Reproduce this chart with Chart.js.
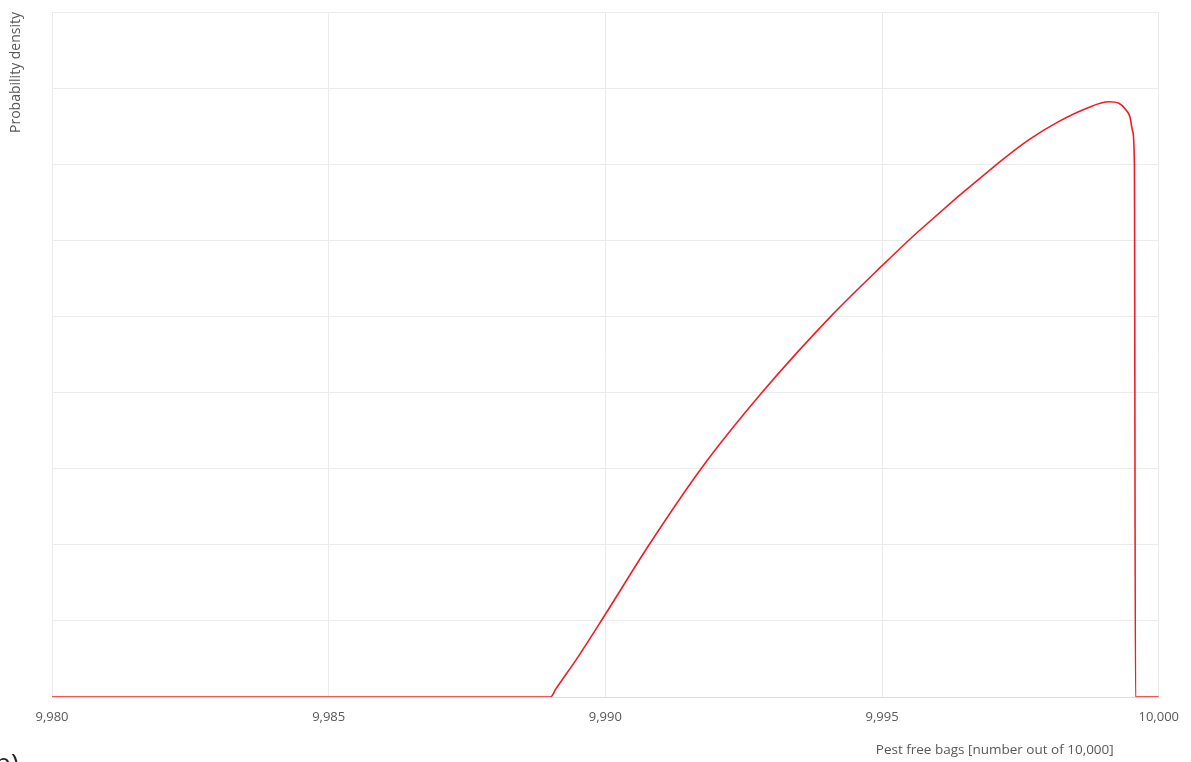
<!DOCTYPE html>
<html>
<head>
<meta charset="utf-8">
<script src="https://cdn.jsdelivr.net/npm/chart.js@4"></script>
<style>
  html, body { margin: 0; padding: 0; background: #fff; }
  #wrap { width: 1191px; height: 762px; position: relative; }
</style>
</head>
<body>
<div id="wrap"><canvas id="densityChart"></canvas></div>
<script>
// Pest free bags (x) and probability density (y, arbitrary units)
const bagsX = [9980, 9989.01, 9989.1, 9989.51, 9990.02, 9990.79, 9991.73, 9992.83, 9994.1, 9995.02,
  9995.63, 9997.11, 9997.65, 9998.19, 9998.68, 9999.1, 9999.28, 9999.4, 9999.48, 9999.53,
  9999.56, 9999.58, 10000];
const densityY = [0, 0, 0.1, 0.53, 1.11, 2.0, 3.0, 4.0, 5.02, 5.68,
  6.1, 7.02, 7.32, 7.56, 7.73, 7.82, 7.8, 7.72, 7.62, 7.43,
  7.0, 0, 0];
const xTicks = [9980, 9985, 9990, 9995, 10000];
const xTitle = 'Pest free bags [number out of 10,000]';
const yTitle = 'Probability density';
const panelLabel = 'b)';

const FONT = "'Open Sans', 'Liberation Sans', sans-serif";
const GRID = '#ebebeb';
const TEXT = '#595959';

// x axis title and the cut off panel letter
const extraText = {
  id: 'extraText',
  afterDraw(chart) {
    const ctx = chart.ctx;
    const area = chart.chartArea;
    ctx.save();
    ctx.fillStyle = TEXT;
    ctx.font = '13.5px ' + FONT;
    ctx.textAlign = 'center';
    ctx.textBaseline = 'middle';
    ctx.fillText(xTitle, area.right - 164, 750);
    ctx.fillStyle = '#222';
    ctx.font = '26px ' + FONT;
    ctx.textAlign = 'left';
    ctx.textBaseline = 'alphabetic';
    ctx.fillText(panelLabel, -5, 772);
    ctx.restore();
  }
};

const points = bagsX.map((x, i) => ({ x: x, y: densityY[i] }));

new Chart(document.getElementById('densityChart'), {
  type: 'line',
  data: {
    datasets: [{
      data: points,
      borderColor: '#f21c24',
      borderWidth: 1.6,
      pointRadius: 0,
      cubicInterpolationMode: 'monotone',
      fill: false
    }]
  },
  options: {
    responsive: true,
    maintainAspectRatio: false,
    animation: false,
    layout: { padding: { top: 12, right: 31, left: 0, bottom: 0 } },
    plugins: {
      legend: { display: false },
      tooltip: { enabled: false }
    },
    scales: {
      x: {
        type: 'linear',
        min: 9980,
        max: 10000,
        afterBuildTicks(axis) {
          axis.ticks = xTicks.map(v => ({ value: v }));
        },
        afterFit(axis) { axis.height = 65; },
        grid: { color: GRID, drawTicks: false },
        border: { color: '#dcdcdc' },
        ticks: {
          color: TEXT,
          font: { family: FONT, size: 13 },
          padding: 12,
          maxRotation: 0,
          callback: v => v.toLocaleString('en-US')
        }
      },
      y: {
        min: 0,
        max: 9,
        afterFit(axis) { axis.width = 52; },
        grid: { color: GRID, drawTicks: false },
        border: { color: GRID },
        ticks: { stepSize: 1, display: false },
        title: {
          display: true,
          text: yTitle,
          align: 'end',
          color: TEXT,
          font: { family: FONT, size: 14 },
          padding: { top: 8, bottom: 0 }
        }
      }
    }
  },
  plugins: [extraText]
});
</script>
</body>
</html>
